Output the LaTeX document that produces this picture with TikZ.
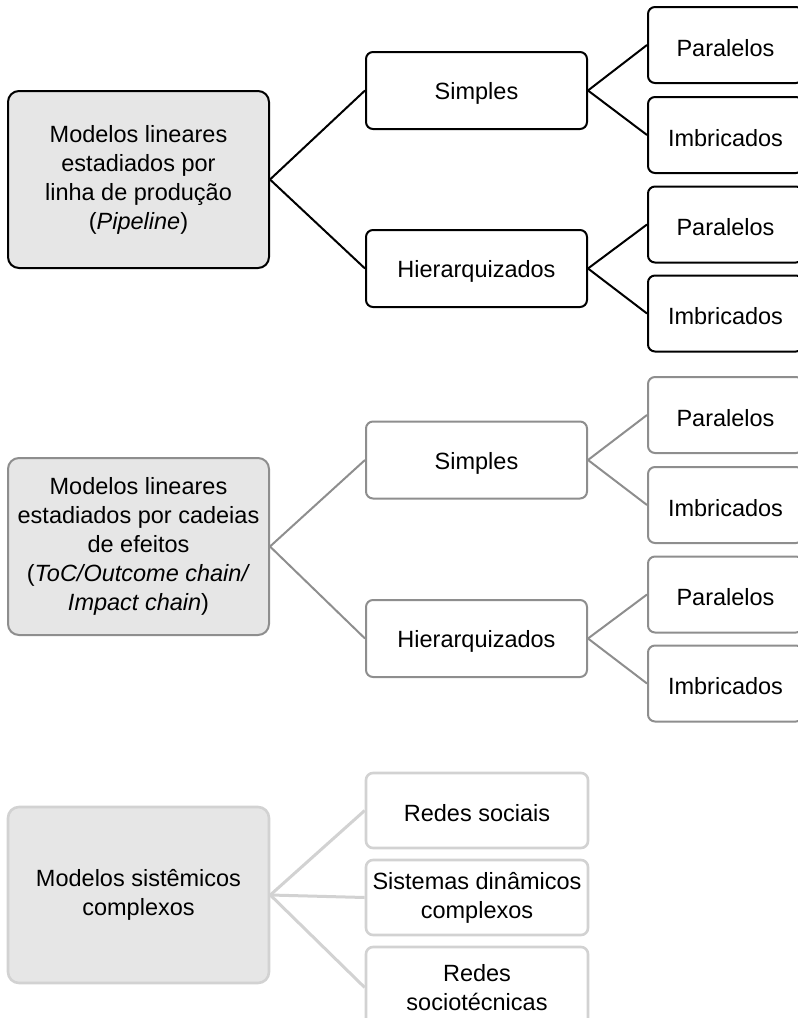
\documentclass[tikz,border=0pt]{standalone}
\usepackage{fontspec}
\setmainfont{Liberation Sans}
\definecolor{boxfill}{HTML}{E6E6E6}
\definecolor{midgray}{HTML}{8E8E8E}
\definecolor{lightgray}{HTML}{D2D2D2}
\begin{document}
\begin{tikzpicture}[x=1pt,y=-1pt,
  txt/.style={font=\fontsize{23.5}{29}\selectfont, align=center, inner sep=0pt, text=black,
    execute at begin node={\rule{0pt}{23pt}}},
  mainbox/.style={txt, draw, fill=boxfill, rounded corners=11pt, minimum width=261pt, minimum height=177pt},
  midbox/.style={txt, draw, fill=white, rounded corners=7pt, minimum width=221pt, minimum height=77pt},
  leafbox/.style={txt, draw, fill=white, rounded corners=7pt, minimum width=155pt, minimum height=76pt},
  gA/.style={draw=black, line width=2pt},
  gB/.style={draw=midgray, line width=2pt},
  gC/.style={draw=lightgray, line width=2.6pt},
  link/.style={line width=2pt},
]
\useasboundingbox (0,0) rectangle (798,1018);
\clip (0,0) rectangle (798,1018);

% --- production-line models ---
\node[mainbox, gA] (m1) at (138.5,179.5) {Modelos lineares\\estadiados por\\linha de produção\\(\textit{Pipeline})};
\node[midbox, gA] (s1) at (476.5,90.5) {Simples};
\node[midbox, gA] (h1) at (476.5,268.5) {Hierarquizados};
\node[leafbox, gA] (p1) at (725.5,45) {Paralelos};
\node[leafbox, gA] (i1) at (725.5,135) {Imbricados};
\node[leafbox, gA] (p2) at (725.5,224.5) {Paralelos};
\node[leafbox, gA] (i2) at (725.5,313.5) {Imbricados};
\begin{scope}[link, draw=black]
  \draw (m1.east) -- (s1.west);
  \draw (m1.east) -- (h1.west);
  \draw (s1.east) -- (p1.west);
  \draw (s1.east) -- (i1.west);
  \draw (h1.east) -- (p2.west);
  \draw (h1.east) -- (i2.west);
\end{scope}

% --- effect-chain models ---
\node[mainbox, gB, execute at begin node={\rule{0pt}{29pt}}] (m2) at (138.5,546.5) {Modelos lineares\\estadiados por cadeias\\de efeitos\\(\textit{ToC/Outcome chain/}\\\textit{Impact chain})};
\node[midbox, gB] (s2) at (476.5,460) {Simples};
\node[midbox, gB] (h2) at (476.5,638.5) {Hierarquizados};
\node[leafbox, gB] (p3) at (725.5,415) {Paralelos};
\node[leafbox, gB] (i3) at (725.5,505) {Imbricados};
\node[leafbox, gB] (p4) at (725.5,594.5) {Paralelos};
\node[leafbox, gB] (i4) at (725.5,683.5) {Imbricados};
\begin{scope}[link, draw=midgray]
  \draw (m2.east) -- (s2.west);
  \draw (m2.east) -- (h2.west);
  \draw (s2.east) -- (p3.west);
  \draw (s2.east) -- (i3.west);
  \draw (h2.east) -- (p4.west);
  \draw (h2.east) -- (i4.west);
\end{scope}

% --- complex systemic models ---
\node[mainbox, gC, minimum height=176pt] (m3) at (138.5,895) {Modelos sistêmicos\\complexos};
\node[midbox, gC, minimum width=222pt, minimum height=75pt] (r1) at (477,810.5) {Redes sociais};
\node[midbox, gC, minimum width=222pt, minimum height=75pt] (r2) at (477,897.5) {Sistemas dinâmicos\\complexos};
\node[midbox, gC, minimum width=222pt, minimum height=81pt] (r3) at (477,987.5) {Redes\\sociotécnicas};
\begin{scope}[draw=lightgray, line width=3pt]
  \draw (m3.east) -- (r1.west);
  \draw (m3.east) -- (r2.west);
  \draw (m3.east) -- (r3.west);
\end{scope}
\end{tikzpicture}
\end{document}
